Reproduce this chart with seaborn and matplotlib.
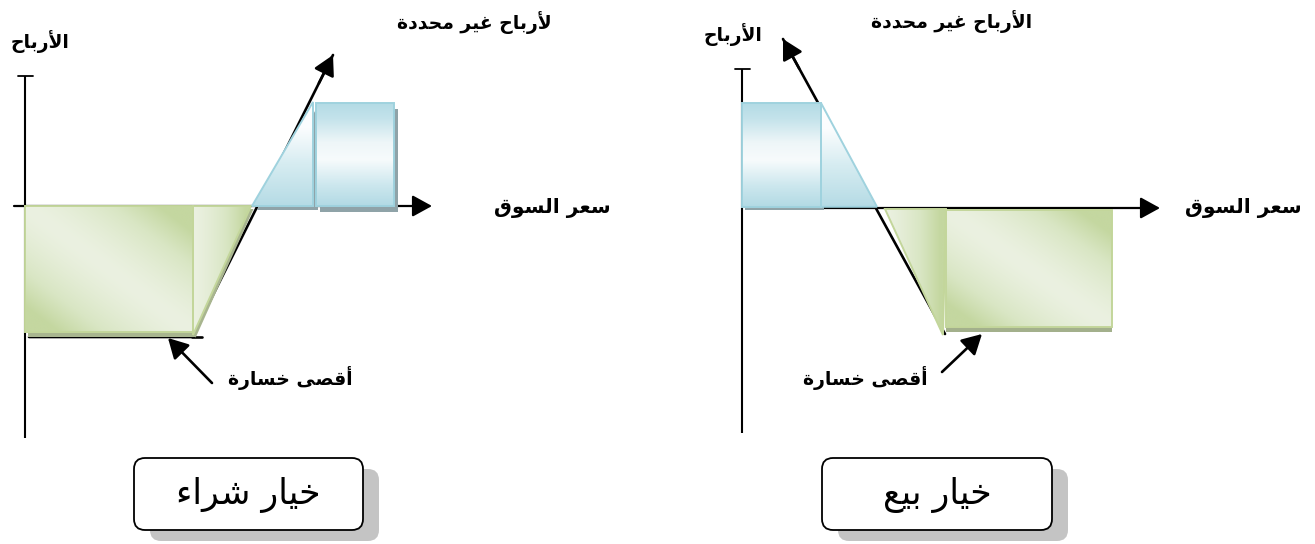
import numpy as np
import matplotlib
matplotlib.use("Agg")
import matplotlib.pyplot as plt
from matplotlib.patches import Polygon, FancyBboxPatch, ArrowStyle
import seaborn as sns

# ---------------- data (price units on x, profit units on y) ----------------
# Call buyer (left panel)
call_axis_x = [-1.1, 40.7]          # market-price axis extent
call_axis_y = [-23.2, 13.0]         # profit axis extent
call_line_x = [0.4, 16.7, 30.8]     # payoff line knots (loss flat, then rising)
call_line_y = [-13.1, -13.1, 15.1]
call_loss_x = [0.0, 16.8]           # max loss region (premium)
call_loss_y = [0.0, -12.6]
call_ltri_x = [16.8, 22.6, 16.8]
call_ltri_y = [0.0, 0.0, -12.9]
call_ptri_x = [22.7, 28.8, 28.8]
call_ptri_y = [0.0, 10.4, 0.0]
call_prof_x = [29.1, 36.9]          # profit region
call_prof_y = [0.0, 10.3]
call_loss_arrow = [(18.7, -17.7), (14.3, -13.2)]

# Put buyer (right panel)
put_axis_x = [4.0, 41.8]
put_axis_y = [-22.5, 13.9]
put_line_x = [4.1, 20.3]            # payoff line (from arrow tip down to max loss)
put_line_y = [16.9, -12.6]
put_prof_x = [0.0, 7.9]
put_prof_y = [0.12, 10.5]
put_ptri_x = [7.9, 7.9, 13.5]
put_ptri_y = [10.5, 0.12, 0.12]
put_ltri_x = [14.3, 20.4, 20.1]
put_ltri_y = [-0.1, -0.1, -12.7]
put_loss_x = [20.4, 37.0]
put_loss_y = [-0.2, -11.9]
put_loss_arrow = [(20.0, -16.4), (24.0, -12.6)]

# Labels
lbl_profit = "الأرباح"
lbl_unlimited_call = "لأرباح غير محددة"
lbl_unlimited_put = "الأرباح غير محددة"
lbl_price = "سعر السوق"
lbl_maxloss = "أقصى خسارة"
lbl_call = "خيار شراء"
lbl_put = "خيار بيع"

# ---------------- Arabic shaping (presentation forms, visual order) ----------------
FORMS = {
    'ء': ('\uFE80', None, None, None),
    'أ': ('\uFE83', '\uFE84', None, None),
    'ا': ('\uFE8D', '\uFE8E', None, None),
    'ب': ('\uFE8F', '\uFE90', '\uFE91', '\uFE92'),
    'ة': ('\uFE93', '\uFE94', None, None),
    'ح': ('\uFEA1', '\uFEA2', '\uFEA3', '\uFEA4'),
    'خ': ('\uFEA5', '\uFEA6', '\uFEA7', '\uFEA8'),
    'د': ('\uFEA9', '\uFEAA', None, None),
    'ر': ('\uFEAD', '\uFEAE', None, None),
    'س': ('\uFEB1', '\uFEB2', '\uFEB3', '\uFEB4'),
    'ش': ('\uFEB5', '\uFEB6', '\uFEB7', '\uFEB8'),
    'ص': ('\uFEB9', '\uFEBA', '\uFEBB', '\uFEBC'),
    'ع': ('\uFEC9', '\uFECA', '\uFECB', '\uFECC'),
    'غ': ('\uFECD', '\uFECE', '\uFECF', '\uFED0'),
    'ق': ('\uFED5', '\uFED6', '\uFED7', '\uFED8'),
    'ل': ('\uFEDD', '\uFEDE', '\uFEDF', '\uFEE0'),
    'م': ('\uFEE1', '\uFEE2', '\uFEE3', '\uFEE4'),
    'و': ('\uFEED', '\uFEEE', None, None),
    'ى': ('\uFEEF', '\uFEF0', None, None),
    'ي': ('\uFEF1', '\uFEF2', '\uFEF3', '\uFEF4'),
}
LAM_ALEF = {'ا': ('\uFEFB', '\uFEFC', None, None), 'أ': ('\uFEF7', '\uFEF8', None, None)}


def shape(text):
    toks = []
    i = 0
    while i < len(text):
        c = text[i]
        if c == 'ل' and i + 1 < len(text) and text[i + 1] in LAM_ALEF:
            toks.append(LAM_ALEF[text[i + 1]])
            i += 2
        elif c in FORMS:
            toks.append(FORMS[c])
            i += 1
        else:
            toks.append(c)
            i += 1
    out = []
    for k, t in enumerate(toks):
        if isinstance(t, str):
            out.append(t)
            continue
        prev = toks[k - 1] if k > 0 else None
        nxt = toks[k + 1] if k + 1 < len(toks) else None
        jp = isinstance(prev, tuple) and prev[2] is not None
        jn = isinstance(nxt, tuple) and t[2] is not None
        if jp and jn:
            f = t[3]
        elif jp:
            f = t[1]
        elif jn:
            f = t[2]
        else:
            f = t[0]
        out.append(f or t[0])
    return ''.join(reversed(out))


# ---------------- style ----------------
sns.set_theme(style="white")
plt.rcParams['font.family'] = ['DejaVu Sans']
plt.rcParams['text.color'] = 'black'

fig = plt.figure(figsize=(13.15, 5.44), dpi=100)
axL = fig.add_axes([0, 0, 657 / 1315, 1])
axR = fig.add_axes([657 / 1315, 0, 658 / 1315, 1])

BLACK = "#000000"
GREEN_EDGE = "#c3d69b"
BLUE_EDGE = "#9fd2de"
LBL = dict(ha="center", va="center", fontsize=13.5, fontweight="bold", color=BLACK)


def hexrgb(h):
    h = h.lstrip('#')
    return np.array([int(h[i:i + 2], 16) / 255 for i in (0, 2, 4)])


def ramp(t, stops):
    pos = np.array([s[0] for s in stops])
    cols = np.array([hexrgb(s[1]) for s in stops])
    out = np.zeros(t.shape + (3,))
    for ch in range(3):
        out[..., ch] = np.interp(t, pos, cols[:, ch])
    return out


GREEN_STOPS = [(0, "#ebf1e1"), (0.55, "#d9e6c4"), (1, "#c4d7a0")]
BLUE_RECT_STOPS = [(0, "#b2dae4"), (0.2, "#cce7ee"), (0.45, "#f7fbfc"),
                   (0.62, "#eef6f8"), (0.85, "#c4e3eb"), (1, "#b3dbe5")]
BLUE_TRI_STOPS = [(0, "#b5dbe5"), (0.4, "#d6ecf1"), (0.75, "#fbfdfe"), (1, "#ffffff")]


def grad_poly(ax, verts, kind, edge, z=3):
    xs = [v[0] for v in verts]
    ys = [v[1] for v in verts]
    x0, x1, y0, y1 = min(xs), max(xs), min(ys), max(ys)
    n = 220
    U, W = np.meshgrid(np.linspace(0, 1, n), np.linspace(0, 1, n))  # W: 0 = top
    if kind == "green_rect":
        img = ramp(np.clip(np.abs(U - W) * 1.25, 0, 1) ** 1.4, GREEN_STOPS)
    elif kind == "green_tri":
        img = ramp(np.clip(U * 1.1, 0, 1) ** 1.3, GREEN_STOPS)
    elif kind == "blue_rect":
        img = ramp(1 - W, BLUE_RECT_STOPS)
    else:
        img = ramp(1 - W, BLUE_TRI_STOPS)
    im = ax.imshow(img, extent=(x0, x1, y0, y1), origin="upper", aspect="auto",
                   interpolation="bilinear", zorder=z)
    clip = Polygon(verts, closed=True, facecolor="none", edgecolor="none",
                   transform=ax.transData)
    ax.add_patch(clip)
    im.set_clip_path(clip)
    ax.add_patch(Polygon(verts, closed=True, facecolor="none", edgecolor=edge,
                         lw=1.4, zorder=z + 0.1, joinstyle="miter"))


def rect_verts(xr, yr, dx=0.0, dy=0.0):
    return [(xr[0] + dx, yr[0] + dy), (xr[1] + dx, yr[0] + dy),
            (xr[1] + dx, yr[1] + dy), (xr[0] + dx, yr[1] + dy)]


def shadow(ax, verts, color, dx, dy, z=2):
    ax.add_patch(Polygon([(x + dx, y + dy) for x, y in verts], closed=True,
                         facecolor=color, edgecolor="none", zorder=z))


HEAD = ArrowStyle("-|>", head_length=0.6, head_width=0.33)


def arrow(ax, start, end, lw=1.5, z=4):
    ax.annotate("", xy=end, xytext=start,
                arrowprops=dict(arrowstyle=HEAD, mutation_scale=20, lw=lw,
                                color=BLACK, shrinkA=0, shrinkB=0), zorder=z)


def axes_lines(ax, ax_x, ax_y, y_at_axis):
    # profit axis with top cap
    ax.plot([0, 0], ax_y, color=BLACK, lw=1.5, zorder=1, solid_capstyle="butt")
    ax.plot([-0.7, 0.8], [ax_y[1], ax_y[1]], color=BLACK, lw=1.3, zorder=1)
    # market price axis with arrow
    arrow(ax, (ax_x[0], y_at_axis), (ax_x[1], y_at_axis), lw=1.6, z=1)


def box(ax, xr, yr, text):
    w = xr[1] - xr[0]
    h = yr[1] - yr[0]
    ax.add_patch(FancyBboxPatch((xr[0] + 1.6, yr[0] - 1.1), w, h,
                                boxstyle="round,pad=0,rounding_size=1.1",
                                facecolor="#c4c4c4", edgecolor="none", zorder=5))
    ax.add_patch(FancyBboxPatch((xr[0], yr[0]), w, h,
                                boxstyle="round,pad=0,rounding_size=1.1",
                                facecolor="white", edgecolor=BLACK, lw=1.3, zorder=6))
    ax.text(xr[0] + w / 2, yr[0] + h / 2 - 0.1, shape(text), ha="center", va="center",
            fontsize=25, color=BLACK, zorder=7)


# ---------------- left panel: call option buyer ----------------
ax = axL
axes_lines(ax, call_axis_x, call_axis_y, 0.0)
sns.lineplot(x=call_line_x, y=call_line_y, sort=False, estimator=None, ax=ax,
             color=BLACK, lw=1.9, zorder=1)
ax.plot([call_line_x[1], call_line_x[1] + 1.0], [call_line_y[1]] * 2, color=BLACK, lw=1.9, zorder=1)
arrow(ax, (call_line_x[1] + (call_line_x[2] - call_line_x[1]) * 0.9,
           call_line_y[1] + (call_line_y[2] - call_line_y[1]) * 0.9),
      (call_line_x[2], call_line_y[2]), lw=1.9, z=1)

lv = rect_verts(call_loss_x, call_loss_y)
shadow(ax, lv, "#a8b58f", 0.3, -0.45)
grad_poly(ax, lv, "green_rect", GREEN_EDGE)
tv = list(zip(call_ltri_x, call_ltri_y))
shadow(ax, tv, "#a8b58f", 0.25, -0.3)
grad_poly(ax, tv, "green_tri", GREEN_EDGE)
pt = list(zip(call_ptri_x, call_ptri_y))
shadow(ax, pt, "#8fa3a8", 0.5, -0.4)
grad_poly(ax, pt, "blue_tri", BLUE_EDGE)
pv = rect_verts(call_prof_x, call_prof_y)
shadow(ax, pv, "#8fa3a8", 0.35, -0.55)
grad_poly(ax, pv, "blue_rect", BLUE_EDGE)

arrow(ax, call_loss_arrow[0], call_loss_arrow[1], lw=1.9, z=4)
ax.text(1.5, 16.4, shape(lbl_profit), **LBL)
ax.text(44.9, 18.3, shape(lbl_unlimited_call), **LBL)
ax.text(52.7, -0.2, shape(lbl_price), **{**LBL, "fontsize": 14.5})
ax.text(26.5, -17.2, shape(lbl_maxloss), **LBL)
box(ax, (10.9, 33.8), (-32.4, -25.2), lbl_call)

ax.set_xlim(-2.5, 63.2)
ax.set_ylim(-33.8, 20.6)
ax.set_axis_off()

# ---------------- right panel: put option buyer ----------------
ax = axR
axes_lines(ax, put_axis_x, put_axis_y, 0.0)
sns.lineplot(x=put_line_x, y=put_line_y, sort=False, estimator=None, ax=ax,
             color=BLACK, lw=1.9, zorder=1)
arrow(ax, (put_line_x[0] + (put_line_x[1] - put_line_x[0]) * 0.1,
           put_line_y[0] + (put_line_y[1] - put_line_y[0]) * 0.1),
      (put_line_x[0], put_line_y[0]), lw=1.9, z=1)

pv = rect_verts(put_prof_x, put_prof_y)
shadow(ax, pv, "#8fa3a8", 0.3, -0.35)
grad_poly(ax, pv, "blue_rect", BLUE_EDGE)
pt = list(zip(put_ptri_x, put_ptri_y))
grad_poly(ax, pt, "blue_tri", BLUE_EDGE)
tv = list(zip(put_ltri_x, put_ltri_y))
grad_poly(ax, tv, "green_tri", GREEN_EDGE)
lv = rect_verts(put_loss_x, put_loss_y)
shadow(ax, lv, "#a3b08c", 0.0, -0.45)
grad_poly(ax, lv, "green_rect", GREEN_EDGE)

arrow(ax, put_loss_arrow[0], put_loss_arrow[1], lw=1.9, z=4)
ax.text(-0.9, 17.3, shape(lbl_profit), **LBL)
ax.text(21.0, 18.6, shape(lbl_unlimited_put), **LBL)
ax.text(50.1, 0.0, shape(lbl_price), **{**LBL, "fontsize": 14.5})
ax.text(12.3, -17.0, shape(lbl_maxloss), **LBL)
box(ax, (8.0, 31.0), (-32.2, -25.0), lbl_put)

ax.set_xlim(-8.5, 57.3)
ax.set_ylim(-33.6, 20.8)
ax.set_axis_off()

fig.savefig("out.png", dpi=100, facecolor="white")
